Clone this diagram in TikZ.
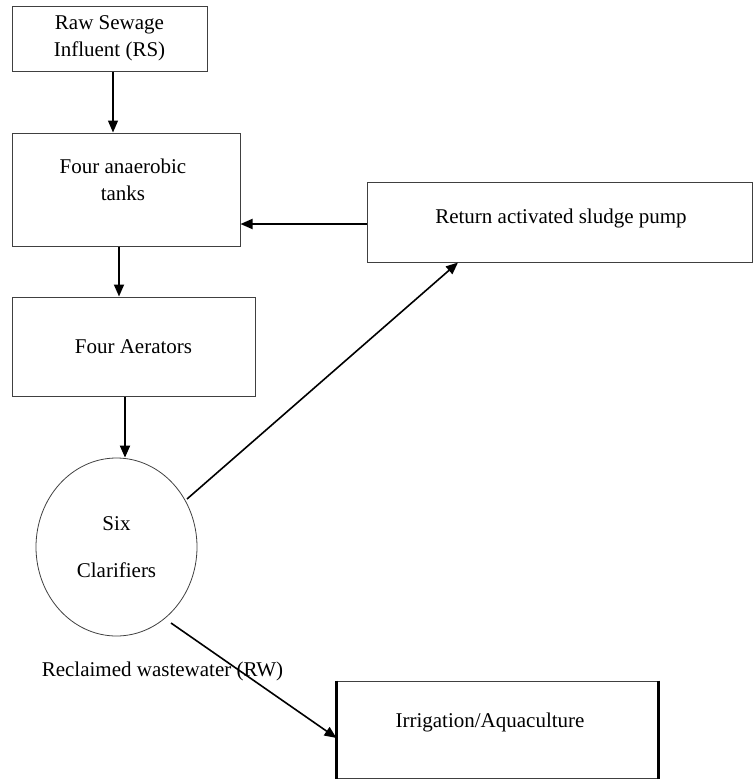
\documentclass[tikz,border=0pt]{standalone}
\usepackage{fontspec}
\setmainfont{Liberation Serif}
\usetikzlibrary{arrows.meta,shapes.geometric}
\begin{document}
\begin{tikzpicture}[x=1pt,y=-1pt,
  every node/.style={font=\fontsize{21}{27}\selectfont},
  box/.style={draw=black!75,line width=1pt,rectangle,inner sep=0pt},
  txt/.style={align=center,inner sep=0pt},
  arr/.style={line width=1.8pt,-{Triangle[length=12pt,width=10pt]}},
  diag/.style={line width=1.6pt,-{Triangle[length=12pt,width=10pt]}}]
\useasboundingbox (0,0) rectangle (753,780);
% boxes
\node[box,minimum width=195pt,minimum height=65pt,align=center] (raw) at (109.5,38.5) {Raw Sewage\\Influent (RS)};
\node[box,minimum width=228pt,minimum height=113pt] (tanks) at (126,189.5) {};
\node[txt] (tankstxt) at (123,180) {Four anaerobic\\tanks};
\node[box,minimum width=243pt,minimum height=99pt] (aer) at (133.5,346.5) {Four Aerators};
\node[box,minimum width=385pt,minimum height=80pt] (pump) at (560,222) {};
\node[txt] (pumptxt) at (561,218) {Return activated sludge pump};
\node[draw=black!75,line width=0.8pt,ellipse,minimum width=161pt,minimum height=178pt,inner sep=0pt,align=center] (clar) at (116.5,547) {Six\\[20pt]Clarifiers};
\node[box,minimum width=321pt,minimum height=97pt] (irr) at (497.5,729.5) {};
\node[txt] (irrtxt) at (490,722) {Irrigation/Aquaculture};
\draw[line width=3.5pt] (irr.north west) -- (irr.south west);
\draw[line width=3.5pt] (irr.north east) -- (irr.south east);
\node[txt] (rwlabel) at (162.5,671) {Reclaimed wastewater (RW)};
% connectors
\draw[arr,line width=1.2pt] (raw.south -| 113,0) -- (tanks.north -| 113,0);
\draw[arr] (tanks.south -| 119,0) -- (aer.north -| 119,0);
\draw[arr] (aer.south -| 125,0) -- (clar.north -| 125,0);
\draw[arr] (pump.west |- 0,224) -- (tanks.east |- 0,224);
\coordinate (pumpstart) at (187,499);
\draw[diag] (pumpstart) -- (pump.south -| 458,0);
\coordinate (rwstart) at (171,623);
\draw[diag] (rwstart) -- (irr.west |- 0,738);
\end{tikzpicture}
\end{document}
